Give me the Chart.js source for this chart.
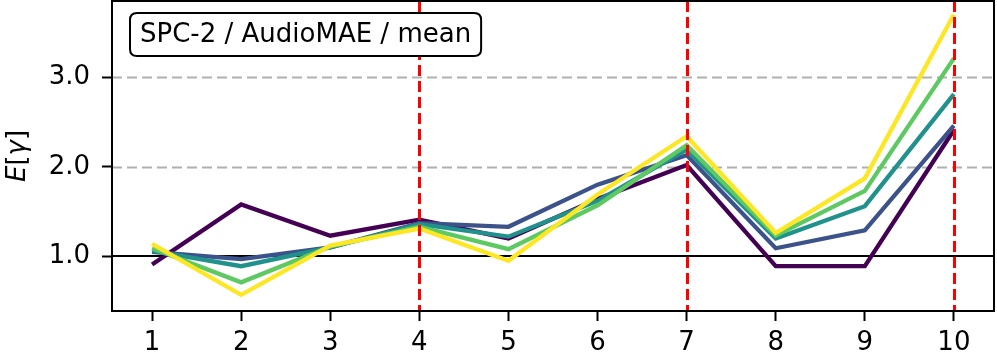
<!DOCTYPE html>
<html>
<head>
<meta charset="utf-8">
<script src="https://cdn.jsdelivr.net/npm/chart.js@4/dist/chart.umd.min.js"></script>
<style>
  html, body { margin: 0; padding: 0; background: #fff; }
  #wrap { width: 997px; height: 361px; position: relative; }
</style>
</head>
<body>
<div id="wrap"><canvas id="c" width="997" height="361"></canvas></div>
<script>
const categories = [1, 2, 3, 4, 5, 6, 7, 8, 9, 10];
const yTicks = [1.0, 2.0, 3.0];
const boxLabel = "SPC-2 / AudioMAE / mean";
const redLines = [4, 7, 10];
const grayLines = [2.0, 3.0];
const baseLine = 1.0;

const seriesPurple = [0.91, 1.58, 1.23, 1.41, 1.20, 1.64, 2.02, 0.89, 0.89, 2.41];
const seriesBlue   = [1.05, 0.97, 1.10, 1.37, 1.33, 1.80, 2.13, 1.09, 1.29, 2.46];
const seriesTeal   = [1.06, 0.89, 1.10, 1.36, 1.22, 1.62, 2.19, 1.20, 1.56, 2.81];
const seriesGreen  = [1.09, 0.71, 1.11, 1.33, 1.08, 1.57, 2.24, 1.23, 1.73, 3.21];
const seriesYellow = [1.14, 0.57, 1.12, 1.31, 0.95, 1.69, 2.34, 1.26, 1.87, 3.70];

const colors = ['#440154', '#3b528b', '#21918c', '#5ec962', '#fde725'];
const allSeries = [seriesPurple, seriesBlue, seriesTeal, seriesGreen, seriesYellow];

const FONT = '"DejaVu Sans", sans-serif';

const datasets = allSeries.map((s, i) => ({
  data: categories.map((c, j) => ({ x: c, y: s[j] })),
  borderColor: colors[i],
  backgroundColor: colors[i],
  borderWidth: 4.3,
  pointRadius: 0,
  tension: 0,
  fill: false,
  order: allSeries.length - 1 - i,
  borderJoinStyle: 'miter',
  borderCapStyle: 'butt'
}));

const decor = {
  id: 'decor',
  beforeDatasetsDraw(chart) {
    const { ctx, chartArea: a, scales } = chart;
    const y = scales.y;
    ctx.save();
    ctx.beginPath();
    ctx.rect(a.left, a.top, a.right - a.left, a.bottom - a.top);
    ctx.clip();
    ctx.strokeStyle = '#b0b0b0';
    ctx.lineWidth = 2;
    ctx.setLineDash([10, 5]);
    grayLines.forEach(v => {
      const py = Math.round(y.getPixelForValue(v)) + 0.5;
      ctx.beginPath(); ctx.moveTo(a.left, py); ctx.lineTo(a.right, py); ctx.stroke();
    });
    ctx.setLineDash([]);
    ctx.strokeStyle = '#000';
    ctx.lineWidth = 2;
    const pb = Math.round(y.getPixelForValue(baseLine));
    ctx.beginPath(); ctx.moveTo(a.left, pb); ctx.lineTo(a.right, pb); ctx.stroke();
    ctx.restore();
  },
  afterDatasetsDraw(chart) {
    const { ctx, chartArea: a, scales } = chart;
    const x = scales.x;
    ctx.save();
    ctx.strokeStyle = '#ff0000';
    ctx.lineWidth = 3;
    ctx.setLineDash([11, 5]);
    redLines.forEach(v => {
      const px = Math.round(x.getPixelForValue(v)) + 0.5;
      ctx.beginPath(); ctx.moveTo(px, a.top); ctx.lineTo(px, a.bottom); ctx.stroke();
    });
    ctx.setLineDash([]);
    // frame
    ctx.strokeStyle = '#000';
    ctx.lineWidth = 2;
    ctx.strokeRect(a.left, a.top, a.right - a.left, a.bottom - a.top);

    // label box
    ctx.font = '26px ' + FONT;
    const tw = ctx.measureText(boxLabel).width;
    const bx = a.left + 18, by = 13, bh = 43, bw = tw + 20;
    const r = 7;
    ctx.beginPath();
    ctx.moveTo(bx + r, by);
    ctx.lineTo(bx + bw - r, by);
    ctx.quadraticCurveTo(bx + bw, by, bx + bw, by + r);
    ctx.lineTo(bx + bw, by + bh - r);
    ctx.quadraticCurveTo(bx + bw, by + bh, bx + bw - r, by + bh);
    ctx.lineTo(bx + r, by + bh);
    ctx.quadraticCurveTo(bx, by + bh, bx, by + bh - r);
    ctx.lineTo(bx, by + r);
    ctx.quadraticCurveTo(bx, by, bx + r, by);
    ctx.closePath();
    ctx.fillStyle = '#fff';
    ctx.fill();
    ctx.lineWidth = 2;
    ctx.strokeStyle = '#000';
    ctx.stroke();
    ctx.fillStyle = '#000';
    ctx.textBaseline = 'middle';
    ctx.textAlign = 'left';
    ctx.fillText(boxLabel, bx + 10, by + bh / 2 + 1);

    // y axis title E[γ]
    ctx.translate(16, (a.top + a.bottom) / 2);
    ctx.rotate(-Math.PI / 2);
    const parts = [
      { t: 'E', f: 'italic 26px ' + FONT },
      { t: '[', f: '26px ' + FONT },
      { t: 'γ', f: 'italic 26px ' + FONT },
      { t: ']', f: '26px ' + FONT }
    ];
    let total = 0;
    parts.forEach(p => { ctx.font = p.f; p.w = ctx.measureText(p.t).width; total += p.w; });
    let cx = -total / 2;
    ctx.textBaseline = 'alphabetic';
    parts.forEach(p => { ctx.font = p.f; ctx.fillText(p.t, cx, 9); cx += p.w; });
    ctx.restore();
  }
};

new Chart(document.getElementById('c'), {
  type: 'line',
  data: { datasets },
  options: {
    responsive: false,
    animation: false,
    devicePixelRatio: 1,
    layout: { padding: { top: 1, right: 3, left: 0, bottom: 0 } },
    plugins: { legend: { display: false }, tooltip: { enabled: false }, title: { display: false } },
    scales: {
      x: {
        type: 'linear',
        min: 0.55,
        max: 10.45,
        afterBuildTicks: s => { s.ticks = categories.map(v => ({ value: v })); },
        afterFit: s => { s.height = 50; s.paddingLeft = 0; s.paddingRight = 0; },
        ticks: {
          color: '#000',
          font: { family: FONT, size: 26 },
          padding: 7,
          maxRotation: 0,
          autoSkip: false,
          callback: v => String(v)
        },
        grid: { drawOnChartArea: false, drawTicks: true, tickLength: 10, tickColor: '#000', tickWidth: 2 },
        border: { display: false }
      },
      y: {
        type: 'linear',
        min: 0.39,
        max: 3.85,
        afterBuildTicks: s => { s.ticks = yTicks.map(v => ({ value: v })); },
        afterFit: s => { s.width = 112; s.paddingTop = 0; s.paddingBottom = 0; },
        ticks: {
          color: '#000',
          font: { family: FONT, size: 26 },
          padding: 12,
          callback: v => Number(v).toFixed(1)
        },
        grid: { drawOnChartArea: false, drawTicks: true, tickLength: 10, tickColor: '#000', tickWidth: 2 },
        border: { display: false }
      }
    }
  },
  plugins: [decor]
});
</script>
</body>
</html>
